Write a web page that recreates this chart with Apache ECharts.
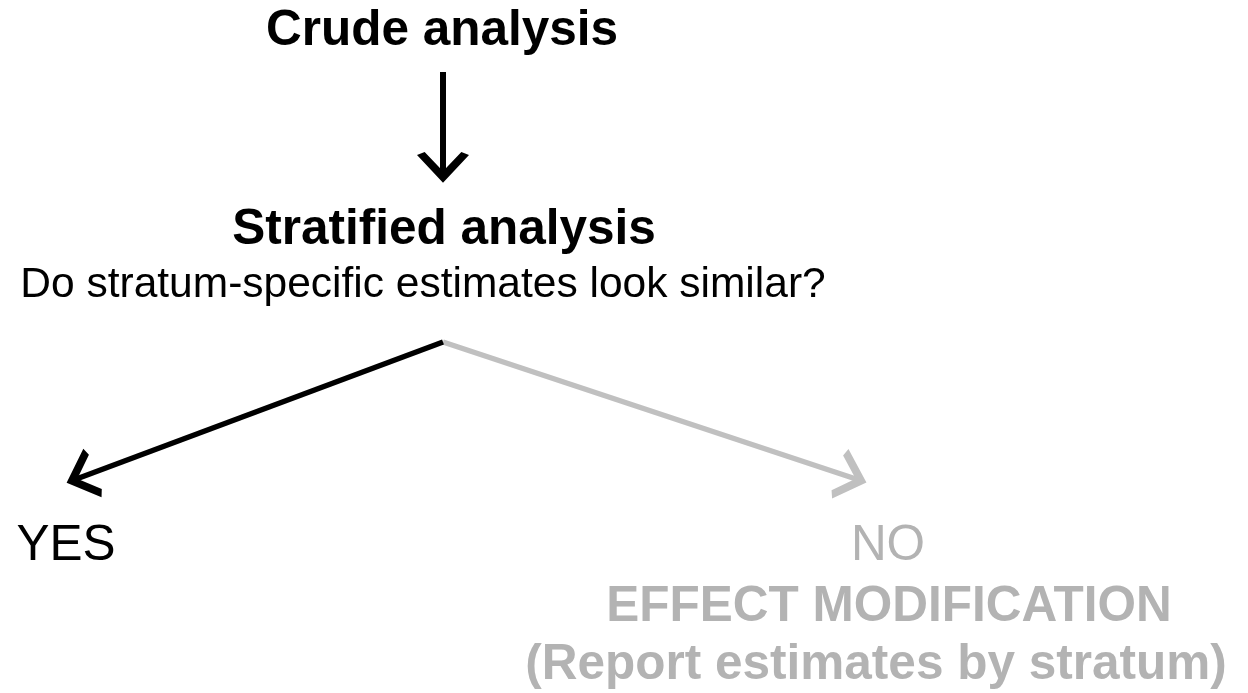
<!DOCTYPE html>
<html>
<head>
<meta charset="utf-8">
<script src="https://cdn.jsdelivr.net/npm/echarts@6/dist/echarts.min.js"></script>
<style>
html,body{margin:0;padding:0;background:#fff;}
#chart{width:1248px;height:693px;}
</style>
</head>
<body>
<div id="chart"></div>
<script>
// Diagram content (positions in diagram units matching the 1248x693 page)
const nodeTexts = ['Crude analysis', 'Stratified analysis', 'Do stratum-specific estimates look similar?', 'YES', 'NO', 'EFFECT MODIFICATION', '(Report estimates by stratum)'];
const nodeX = [442, 444, 423, 66, 888, 889, 876];
const nodeY = [31, 230, 285, 546, 546, 607, 665];
const nodeKind = ['title', 'title', 'question', 'yes', 'no', 'noBold', 'noBold'];

const arrowFrom = [[443, 72], [443, 342], [443, 342]];
const arrowTo = [[443, 178], [71, 481], [862, 481]];
const arrowKind = ['yes', 'yes', 'no'];

const FONT = '"Liberation Sans", Arial, Helvetica, sans-serif';
const BLACK = '#000000';
const GRAY_TEXT = '#b3b3b3';
const GRAY_LINE = '#c0c0c0';

const kindStyle = {
  title:    { color: BLACK, fontWeight: 'bold', fontSize: 49.5 },
  question: { color: BLACK, fontWeight: 'normal', fontSize: 42.5 },
  yes:      { color: BLACK, fontWeight: 'normal', fontSize: 49.5 },
  no:       { color: GRAY_TEXT, fontWeight: 'normal', fontSize: 49.5 },
  noBold:   { color: GRAY_TEXT, fontWeight: 'bold', fontSize: 49.5 }
};

// chevron (open arrow head); tip at the symbol centre, pointing along the line
const chevron = 'path://M50,0 L50.05,0 L50,0.05 Z M50,41 L84,94 L74,100 L50,63 L26,100 L16,94 Z';

const textData = nodeTexts.map((t, i) => ({
  value: [nodeX[i], nodeY[i]],
  label: Object.assign({ formatter: t }, kindStyle[nodeKind[i]])
}));

const lineData = arrowFrom.map((f, i) => ({
  coords: [f, arrowTo[i]],
  lineStyle: { color: arrowKind[i] === 'yes' ? BLACK : GRAY_LINE, width: i === 0 ? 6 : 5.5 }
}));

const chart = echarts.init(document.getElementById('chart'), null, { renderer: 'canvas' });
chart.setOption({
  backgroundColor: '#ffffff',
  animation: false,
  grid: { left: 0, right: 0, top: 0, bottom: 0 },
  xAxis: { type: 'value', min: 0, max: 1248, show: false },
  yAxis: { type: 'value', min: 0, max: 693, inverse: true, show: false },
  series: [
    {
      type: 'lines',
      coordinateSystem: 'cartesian2d',
      symbol: ['none', chevron],
      symbolSize: 52,
      lineStyle: { width: 5.5, opacity: 1, curveness: 0 },
      z: 2,
      data: lineData.slice().reverse()
    },
    {
      type: 'scatter',
      symbolSize: 0,
      silent: true,
      itemStyle: { opacity: 1 },
      label: {
        show: true,
        position: 'inside',
        align: 'center',
        verticalAlign: 'middle',
        fontFamily: FONT,
        opacity: 1
      },
      z: 3,
      data: textData
    }
  ]
});
</script>
</body>
</html>
